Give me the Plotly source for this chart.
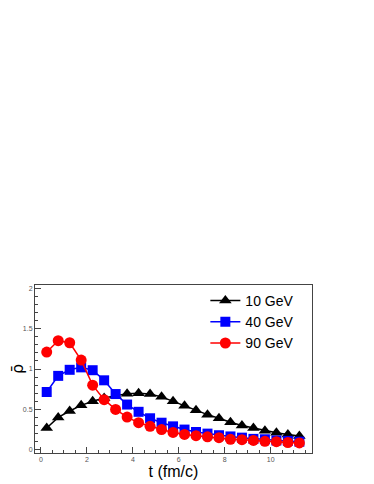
import plotly.graph_objects as go

# time bins (fm/c)
t = [0.25, 0.75, 1.25, 1.75, 2.25, 2.75, 3.25, 3.75, 4.25, 4.75, 5.25, 5.75,
     6.25, 6.75, 7.25, 7.75, 8.25, 8.75, 9.25, 9.75, 10.25, 10.75, 11.25]

rho_10 = [0.27, 0.40, 0.48, 0.55, 0.60, 0.64, 0.67, 0.695, 0.70, 0.69, 0.655, 0.60,
          0.545, 0.49, 0.435, 0.39, 0.34, 0.30, 0.27, 0.235, 0.21, 0.19, 0.17]
rho_40 = [0.715, 0.915, 0.99, 1.02, 0.985, 0.86, 0.69, 0.56, 0.47, 0.39, 0.335, 0.29,
          0.25, 0.22, 0.20, 0.18, 0.165, 0.15, 0.135, 0.13, 0.115, 0.11, 0.10]
rho_90 = [1.21, 1.35, 1.325, 1.11, 0.80, 0.62, 0.50, 0.405, 0.335, 0.29, 0.25, 0.215,
          0.19, 0.175, 0.16, 0.15, 0.13, 0.125, 0.115, 0.105, 0.10, 0.09, 0.085]

series = [
    ("10 GeV", rho_10, "black", "triangle-up", 11),
    ("40 GeV", rho_40, "#0000ff", "square", 10),
    ("90 GeV", rho_90, "#ff0000", "circle", 11),
]

fig = go.Figure()
for name, y, col, sym, sz in series:
    fig.add_trace(go.Scatter(
        x=t, y=y, name=name, mode="lines+markers",
        line=dict(color=col, width=1.5),
        marker=dict(symbol=sym, size=sz, color=col),
    ))

axis_common = dict(
    showline=True, mirror=True, linecolor="#444", linewidth=1,
    ticks="inside", ticklen=6, tickcolor="#444",
    showgrid=False, zeroline=False, automargin=False,
    tickfont=dict(family="Liberation Sans, Arial", size=7, color="#555"),
)

# page body adds an 8px offset, margins are set to compensate
fig.update_layout(
    width=374, height=484,
    margin=dict(l=27, r=70, t=277, b=39),
    paper_bgcolor="white", plot_bgcolor="white",
    font=dict(family="Liberation Sans, Arial", color="black"),
    xaxis=dict(range=[-0.26, 11.8], tickvals=[0, 2, 4, 6, 8, 10],
               minor=dict(dtick=0.5, ticks="inside", ticklen=3, tickcolor="#444"),
               title=dict(text="t (fm/c)", font=dict(size=16), standoff=2),
               **axis_common),
    yaxis=dict(range=[-0.04, 2.04], tickvals=[0, 0.5, 1, 1.5, 2],
               ticktext=["0", "0.5", "1", "1.5", "2"],
               minor=dict(dtick=0.1, ticks="inside", ticklen=3, tickcolor="#444"),
               title=dict(text="ρ\u0304",
                          font=dict(family="DejaVu Sans", size=16), standoff=4),
               **axis_common),
    legend=dict(x=0.615, y=1.0, xanchor="left", yanchor="top",
                bgcolor="rgba(0,0,0,0)", font=dict(size=14),
                itemwidth=30, tracegroupgap=0),
)

fig.write_html("out.html")
